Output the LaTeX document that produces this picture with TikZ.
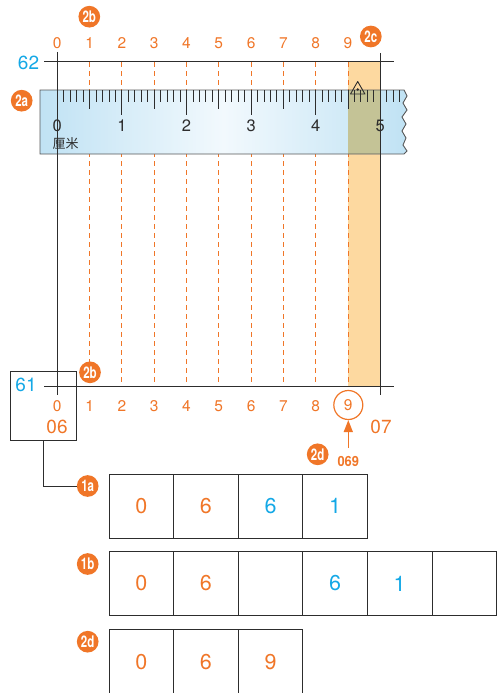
\documentclass[tikz,border=0pt]{standalone}
\usepackage{fontspec}
\usepackage{graphicx}
\setmainfont{TeX Gyre Heros}
\newfontfamily\cjk{Noto Sans CJK SC}
\usetikzlibrary{arrows.meta}
\definecolor{ora}{RGB}{240,118,40}
\definecolor{sky}{RGB}{20,168,230}
\definecolor{band}{RGB}{253,217,160}
\definecolor{olivemix}{RGB}{196,195,150}
\definecolor{ink}{RGB}{45,45,45}
\definecolor{rbA}{RGB}{192,226,244}
\definecolor{rbB}{RGB}{242,249,253}
\tikzset{
  gridline/.style={draw=ink, line width=1pt},
  dashline/.style={draw=ora, line width=0.9pt, dash pattern=on 5pt off 4pt},
  lbl/.style={text=ora, inner sep=0pt, font=\fontsize{15.5}{15.5}\selectfont},
  biglbl/.style={inner sep=0pt, font=\fontsize{19}{19}\selectfont},
  rulnum/.style={text=ink, inner sep=0pt, font=\fontsize{16.5}{16.5}\selectfont},
  badge/.style={circle, fill=ora, text=white, inner sep=0pt, minimum size=21.7pt,
    font=\fontsize{16}{16}\selectfont\bfseries},
  cellbox/.style={draw=ink, line width=1pt, minimum width=64.6pt, minimum height=64.3pt,
    inner sep=0pt, font=\fontsize{21.5}{21.5}\selectfont},
}
\newcommand{\bdg}[1]{\scalebox{0.72}[1]{#1}}
\begin{document}
\begin{tikzpicture}[x=1pt,y=-1pt]
\useasboundingbox (0,0) rectangle (497,693);

% orange band
\fill[band] (348.3,62) rectangle (380.3,386);

% dashed grid lines
\foreach \i in {1,...,9}{
  \pgfmathsetmacro\xx{57.3+32.3*\i}
  \draw[dashline] (\xx,62) -- (\xx,386);
}

% ruler
\shade[left color=rbA, right color=rbA, middle color=rbB]
  (40,90) -- (404,90) -- (407,96) -- (403,103) -- (407,110) -- (402,117) -- (406,124)
  -- (402,131) -- (406,138) -- (403,145) -- (407,151) -- (404,154) -- (40,154) -- cycle;
\fill[olivemix] (348.3,90) rectangle (380.3,154);
\draw[ink!80, line width=0.9pt]
  (40,90) -- (404,90) -- (407,96) -- (403,103) -- (407,110) -- (402,117) -- (406,124)
  -- (402,131) -- (406,138) -- (403,145) -- (407,151) -- (404,154) -- (40,154) -- cycle;
\foreach \i in {0,...,53}{
  \pgfmathsetmacro\tx{57.3+6.46*\i}
  \pgfmathtruncatemacro\mten{mod(\i,10)}
  \pgfmathtruncatemacro\mfive{mod(\i,5)}
  \ifnum\mten=0
    \draw[ink, line width=0.9pt] (\tx,90) -- (\tx,115);
  \else\ifnum\mfive=0
    \draw[ink, line width=0.9pt] (\tx,90) -- (\tx,109);
  \else
    \draw[ink, line width=0.9pt] (\tx,90) -- (\tx,102);
  \fi\fi
}
\foreach \k in {0,...,5}{
  \pgfmathsetmacro\xx{57.3+64.6*\k}
  \node[rulnum] (r\k) at (\xx,126) {\k};
}
\node[text=ink, inner sep=0pt, anchor=west, font=\cjk\fontsize{13}{13}\selectfont] (cm) at (52.5,144) {厘米};
% triangle marker
\draw[ink, line width=0.9pt, line join=round] (350.5,94) -- (357.7,81.5) -- (364.9,94) -- cycle;
\fill[ink] (357.7,89.5) circle (1.3pt);

% solid grid lines
\draw[gridline] (44,62) -- (394,62);
\draw[gridline] (44,386) -- (394,386);
\draw[gridline] (57.3,52) -- (57.3,395);
\draw[gridline] (380.3,53) -- (380.3,395);

% top and bottom labels
\foreach \i in {0,...,9}{
  \pgfmathsetmacro\xx{57.3+32.3*\i}
  \node[lbl] (t\i) at (\xx,43) {\i};
}
\foreach \i in {0,...,8}{
  \pgfmathsetmacro\xx{57.3+32.3*\i}
  \node[lbl, fill=white, inner sep=1pt] (b\i) at (\xx,406) {\i};
}
\node[lbl, draw=ora, circle, line width=1.2pt, minimum size=29pt] (b9) at (348.3,405) {9};

\node[biglbl, text=sky] (n62) at (28.5,62.5) {62};
\node[biglbl, text=sky] (n61) at (26,385) {61};
\node[biglbl, text=ora] (n06) at (57,427) {06};
\node[biglbl, text=ora] (n07) at (381,427) {07};

% box around 61 / 0 / 06
\node[draw=ink, line width=1pt, minimum width=66pt, minimum height=69pt, inner sep=0pt] (boxA) at (43.7,405.5) {};

% badges
\node[badge] (bd2bt) at (89.3,16.7) {\bdg{2b}};
\node[badge] (bd2c) at (370.8,36.5) {\bdg{2c}};
\node[badge] (bd2a) at (21.7,100.7) {\bdg{2a}};
\node[badge] (bd2bb) at (90,372.3) {\bdg{2b}};
\node[badge] (bd2dm) at (317.7,454.3) {\bdg{2d}};
\node[badge] (bd1a) at (87.7,486) {\bdg{1a}};
\node[badge] (bd1b) at (87.7,564) {\bdg{1b}};
\node[badge] (bd2db) at (87.7,641.7) {\bdg{2d}};

% 069 arrow
\node[text=ora, inner sep=0pt, font=\fontsize{14}{14}\selectfont\bfseries] (n069) at (348.3,461) {\scalebox{0.92}[1]{069}};
\draw[ora, line width=1.5pt, -{Triangle[length=12pt,width=9pt]}] (348.3,448) -- (b9.south);

% connector box -> 1a
\draw[ink, line width=1pt] (boxA.south) |- (bd1a.west);

% cells row 1a
\node[cellbox, text=ora] (a1) at (141.3,506.2) {0};
\node[cellbox, text=ora] (a2) at (205.9,506.2) {6};
\node[cellbox, text=sky] (a3) at (270.5,506.2) {6};
\node[cellbox, text=sky] (a4) at (335.1,506.2) {1};
% row 1b
\node[cellbox, text=ora] (c1) at (141.3,583.5) {0};
\node[cellbox, text=ora] (c2) at (205.9,583.5) {6};
\node[cellbox] (c3) at (270.5,583.5) {};
\node[cellbox, text=sky] (c4) at (335.1,583.5) {6};
\node[cellbox, text=sky] (c5) at (399.7,583.5) {1};
\node[cellbox] (c6) at (464.3,583.5) {};
% row 2d
\node[cellbox, text=ora] (d1) at (141.3,662) {0};
\node[cellbox, text=ora] (d2) at (205.9,662) {6};
\node[cellbox, text=ora] (d3) at (270.5,662) {9};
\end{tikzpicture}
\end{document}
